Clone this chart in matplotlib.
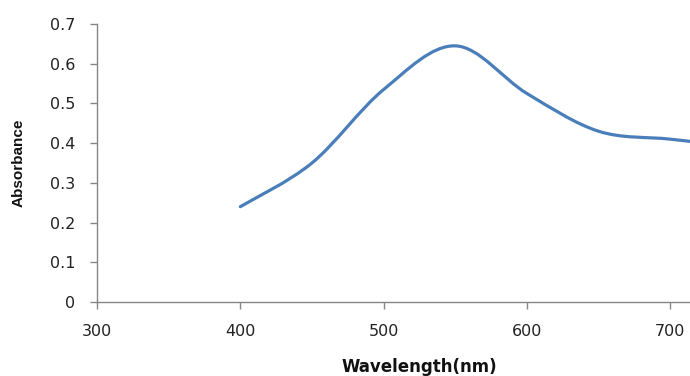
import numpy as np
import matplotlib
matplotlib.use("Agg")
import matplotlib.pyplot as plt
from matplotlib.path import Path
from matplotlib.patches import PathPatch

# Absorbance spectrum
wavelength = [400, 450, 500, 550, 600, 650, 700, 750]
absorbance = [0.24, 0.35, 0.535, 0.645, 0.525, 0.43, 0.41, 0.39]

x_ticks = [300, 400, 500, 600, 700]
y_ticks = [0, 0.1, 0.2, 0.3, 0.4, 0.5, 0.6, 0.7]
y_tick_labels = ["0", "0.1", "0.2", "0.3", "0.4", "0.5", "0.6", "0.7"]


def smooth_path(xs, ys):
    """Excel-like smoothed line: cubic Bezier segments through the points."""
    pts = np.column_stack([xs, ys]).astype(float)
    n = len(pts)
    verts = [pts[0]]
    codes = [Path.MOVETO]
    for i in range(n - 1):
        p0 = pts[i - 1] if i > 0 else pts[i]
        p1 = pts[i]
        p2 = pts[i + 1]
        p3 = pts[i + 2] if i + 2 < n else pts[i + 1]
        c1 = p1 + (p2 - p0) / 6.0
        c2 = p2 - (p3 - p1) / 6.0
        verts += [c1, c2, p2]
        codes += [Path.CURVE4] * 3
    return Path(verts, codes)


fig = plt.figure(figsize=(6.9, 3.76), dpi=100)
# the original plot area runs past the right edge of the image (up to 750 nm)
ax = fig.add_axes([97 / 690, 74 / 376, 593 / 690, 278 / 376])

line = PathPatch(smooth_path(wavelength, absorbance), facecolor="none",
                 edgecolor="#4a7ebb", linewidth=2.3, capstyle="round",
                 joinstyle="round")
ax.add_patch(line)

ax.set_xlim(300, 713.8)
ax.set_ylim(0, 0.7)
ax.set_xticks(x_ticks)
ax.set_yticks(y_ticks)
ax.set_yticklabels(y_tick_labels)

for side in ["top", "right"]:
    ax.spines[side].set_visible(False)
for side in ["left", "bottom"]:
    ax.spines[side].set_color("#868686")
    ax.spines[side].set_linewidth(1.0)
ax.tick_params(axis="both", direction="out", length=5, width=1.0,
               color="#868686", labelsize=11.5, labelcolor="#222222")
ax.tick_params(axis="x", pad=11)
ax.tick_params(axis="y", pad=10.5)

ax.set_xlabel("Wavelength(nm)", fontsize=12, fontweight="bold",
              color="#111111")
ax.xaxis.set_label_coords(0.543, -0.20)
ax.set_ylabel("Absorbance", fontsize=11, fontweight="bold",
              family="Liberation Sans", color="#111111")
ax.yaxis.set_label_coords((26 - 97) / 593, 0.5)

fig.savefig("out.png", dpi=100)
